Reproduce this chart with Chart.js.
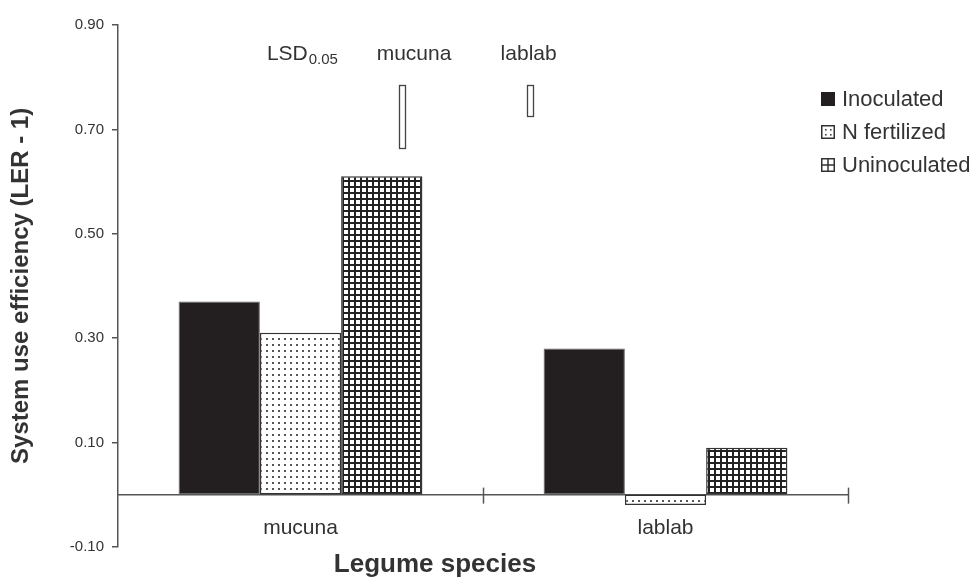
<!DOCTYPE html>
<html><head><meta charset="utf-8">
<script src="https://cdn.jsdelivr.net/npm/chart.js@4/dist/chart.umd.min.js"></script>
<style>html,body{margin:0;padding:0;background:#fff}</style>
</head><body>
<canvas id="c" width="972" height="581"></canvas>
<script>
// ---- data ----
const categories = ['mucuna', 'lablab'];
const seriesNames = ['Inoculated', 'N fertilized', 'Uninoculated'];
const inoculated = [0.37, 0.28];
const nFertilized = [0.31, -0.02];
const uninoculated = [0.61, 0.09];
const yTickValues = [-0.10, 0.10, 0.30, 0.50, 0.70, 0.90];
const yTitle = 'System use efficiency (LER - 1)';
const xTitle = 'Legume species';
const lsdLabel = 'LSD';
const lsdSubscript = '0.05';
const lsdCrops = ['mucuna', 'lablab'];
const lsdValues = [0.12, 0.06];
const lsdTop = 0.785;

// ---- layout (not data) ----
const FONT = '"Liberation Sans", Arial, sans-serif';
const TEXT = '#333';
const AXIS = '#555';
const lsdLayout = { labelY: 0.832, labelPos: [-0.092, 0.311, 0.625], barPos: [0.279, 0.629], barWidth: 6 };
const legendLayout = { x: 821, y: 99, step: 33, box: 14, gap: 7 };

const canvas = document.getElementById('c');
const ctx = canvas.getContext('2d');

function makePattern(draw, w, h) {
  const t = document.createElement('canvas');
  t.width = w; t.height = h;
  const g = t.getContext('2d');
  g.fillStyle = '#fff'; g.fillRect(0, 0, w, h);
  draw(g);
  return ctx.createPattern(t, 'repeat');
}
const dotPattern = makePattern(g => {
  g.fillStyle = '#555'; g.fillRect(2, 2, 2, 2);
}, 6, 6);
const gridPattern = makePattern(g => {
  g.fillStyle = '#222'; g.fillRect(0, 0, 6, 2); g.fillRect(0, 0, 2, 6);
}, 6, 6);

const axisCrossTicks = {
  id: 'axisCrossTicks',
  afterDraw(chart) {
    const x = chart.scales.x, y = chart.scales.y;
    const zy = y.getPixelForValue(0);
    const c = chart.ctx;
    c.save();
    c.strokeStyle = AXIS; c.lineWidth = 1.5;
    for (let k = 0; k < categories.length; k++) {
      const px = Math.round(x.getPixelForValue(k + 0.5)) + 0.5;
      c.beginPath(); c.moveTo(px, zy - 7); c.lineTo(px, zy + 9); c.stroke();
    }
    c.restore();
  }
};

const lsdPlugin = {
  id: 'lsdPlugin',
  afterDraw(chart) {
    const x = chart.scales.x, y = chart.scales.y;
    const c = chart.ctx;
    c.save();
    c.fillStyle = TEXT;
    c.textBaseline = 'alphabetic';
    const ly = y.getPixelForValue(lsdLayout.labelY);
    c.textAlign = 'left';
    c.font = '21px ' + FONT;
    const lx = x.getPixelForValue(lsdLayout.labelPos[0]);
    c.fillText(lsdLabel, lx, ly);
    const w = c.measureText(lsdLabel).width;
    c.font = '15px ' + FONT;
    c.fillText(lsdSubscript, lx + w + 1, ly + 4);
    c.textAlign = 'center';
    c.font = '21px ' + FONT;
    lsdCrops.forEach((name, i) => {
      c.fillText(name, x.getPixelForValue(lsdLayout.labelPos[i + 1]), ly);
    });
    c.strokeStyle = '#444'; c.lineWidth = 1.3;
    lsdValues.forEach((v, i) => {
      const cx = x.getPixelForValue(lsdLayout.barPos[i]);
      const t = y.getPixelForValue(lsdTop);
      const b = y.getPixelForValue(lsdTop - v);
      const bw = lsdLayout.barWidth;
      c.fillStyle = '#fff';
      c.fillRect(cx - bw / 2, t, bw, b - t);
      c.strokeRect(Math.round(cx - bw / 2) + 0.5, Math.round(t) + 0.5, bw, Math.round(b - t));
    });
    c.restore();
  }
};

const legendPlugin = {
  id: 'customLegend',
  afterDraw(chart) {
    const c = chart.ctx;
    const L = legendLayout;
    c.save();
    c.font = '22px ' + FONT;
    c.textBaseline = 'middle';
    c.textAlign = 'left';
    chart.data.datasets.forEach((ds, i) => {
      const cy = L.y + i * L.step;
      const x0 = L.x, y0 = Math.round(cy - L.box / 2), s = L.box;
      if (i === 0) {
        c.fillStyle = '#231f20'; c.fillRect(x0, y0, s, s);
      } else {
        c.fillStyle = '#fff'; c.fillRect(x0, y0, s, s);
        c.strokeStyle = '#333'; c.lineWidth = 1.5;
        c.strokeRect(x0 + 0.75, y0 + 0.75, s - 1.5, s - 1.5);
        if (i === 1) {
          c.fillStyle = '#444';
          [[4, 4], [4, 9], [9, 4], [9, 9]].forEach(p => c.fillRect(x0 + p[0], y0 + p[1], 1.6, 1.6));
        } else {
          c.fillStyle = '#333';
          c.fillRect(x0 + s / 2 - 0.75, y0, 1.5, s);
          c.fillRect(x0, y0 + s / 2 - 0.75, s, 1.5);
        }
      }
      c.fillStyle = TEXT;
      c.fillText(ds.label, x0 + s + L.gap, cy + 1);
    });
    c.restore();
  }
};

Chart.defaults.font.family = FONT;
Chart.defaults.color = TEXT;

new Chart(ctx, {
  type: 'bar',
  data: {
    labels: categories,
    datasets: [
      { label: seriesNames[0], data: inoculated, backgroundColor: '#231f20', borderColor: '#666', borderWidth: 1, borderSkipped: false },
      { label: seriesNames[1], data: nFertilized, backgroundColor: dotPattern, borderColor: '#333', borderWidth: 1.5, borderSkipped: false },
      { label: seriesNames[2], data: uninoculated, backgroundColor: gridPattern, borderColor: '#333', borderWidth: 1.5, borderSkipped: false }
    ]
  },
  options: {
    responsive: false,
    animation: false,
    events: [],
    devicePixelRatio: 1,
    barPercentage: 1,
    categoryPercentage: 0.668,
    layout: { padding: { top: 25, right: 102, bottom: 0, left: 0 } },
    plugins: {
      legend: { display: false },
      tooltip: { enabled: false },
      title: {
        display: true, text: xTitle, position: 'bottom', color: TEXT,
        font: { size: 26, weight: 'bold' }, padding: { top: 2, bottom: 1 }
      }
    },
    scales: {
      x: {
        type: 'category',
        position: { y: 0 },
        offset: true,
        z: 1,
        grid: { display: false, drawTicks: false },
        border: { display: true, color: AXIS, width: 1.5 },
        ticks: { font: { size: 21 }, color: TEXT, padding: 21, maxRotation: 0 },
        afterFit: s => { s.height = 0; }
      },
      y: {
        type: 'linear',
        position: 'left',
        min: -0.1, max: 0.9,
        afterBuildTicks: s => { s.ticks = yTickValues.map(v => ({ value: v })); },
        ticks: { callback: v => Number(v).toFixed(2), font: { size: 15 }, color: TEXT, padding: 8 },
        grid: { drawOnChartArea: false, drawTicks: true, tickLength: 6, color: AXIS, lineWidth: 1.5 },
        border: { display: true, color: AXIS, width: 1.5 },
        title: { display: true, text: yTitle, color: TEXT, font: { size: 24, weight: 'bold' }, padding: { top: 7, bottom: 0 } },
        afterFit: s => { s.width = 118; }
      },
      y2: {
        type: 'linear',
        position: 'right',
        display: true,
        grid: { display: false },
        border: { display: false },
        ticks: { display: false },
        afterFit: s => { s.width = 22; }
      }
    }
  },
  plugins: [axisCrossTicks, lsdPlugin, legendPlugin]
});
</script>
</body></html>
